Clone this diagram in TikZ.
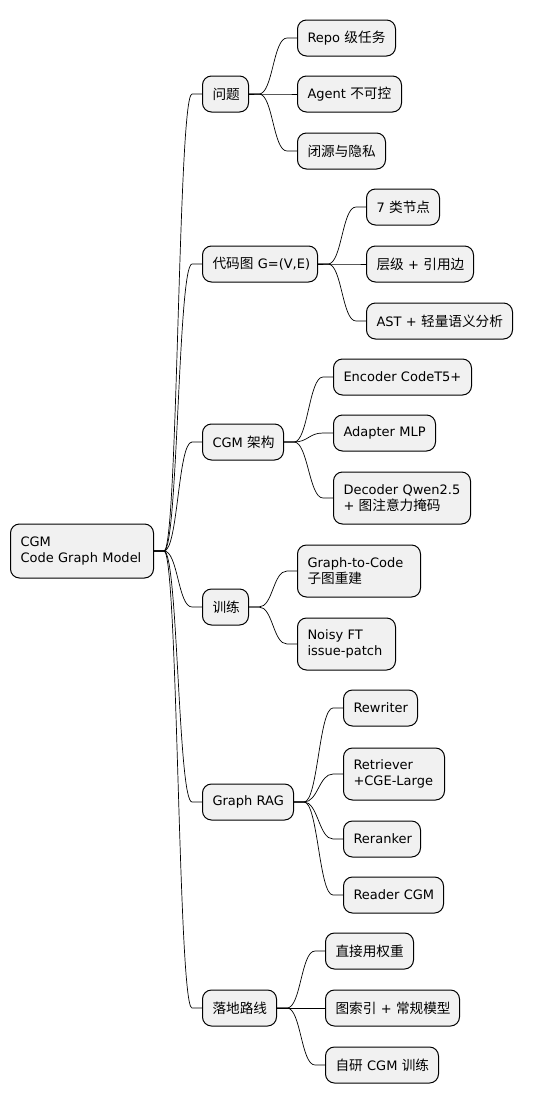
\documentclass[tikz,border=0pt]{standalone}
\usepackage{fontspec}
\usepackage{xcolor}
\usepackage{tikz}
\setmainfont{DejaVu Sans}
\newfontfamily\cjk[Scale=1.05]{Noto Sans CJK SC}
\definecolor{boxfill}{HTML}{F1F1F1}
\tikzset{
  topic/.style={draw=black,line width=1pt,fill=boxfill,rounded corners=9pt,
    anchor=west,align=left,minimum height=36pt,inner xsep=10pt,inner ysep=4pt,
    font=\fontsize{13}{16.5}\selectfont},
  branch/.style={line width=0.7pt,
    to path={-- ++(10,0) .. controls +(14,0) and +(-14,0) .. ([xshift=-10pt]\tikztotarget) -- (\tikztotarget)}}
}

\begin{document}
\begin{tikzpicture}[x=1pt,y=-1pt]
  \useasboundingbox (0,0) rectangle (535,1103);
  \node[topic,text width=123pt,minimum height=54pt] at (10,551) (root) {CGM\\Code~Graph~Model};

  \node[topic,text width=26pt]  at (202,94)  (q) {\cjk 问题};
  \node[topic,text width=78pt]  at (297,38)  (q1) {Repo~{\cjk 级任务}};
  \node[topic,text width=84pt]  at (297,94)  (q2) {Agent~{\cjk 不可控}};
  \node[topic,text width=68pt]  at (297,151) (q3) {\cjk 闭源与隐私};

  \node[topic,text width=95pt]  at (202,264) (g) {{\cjk 代码图}~G=(V,E)};
  \node[topic,text width=53pt]  at (366,207) (g1) {7~{\cjk 类节点}};
  \node[topic,text width=87pt]  at (366,264) (g2) {{\cjk 层级}~+~{\cjk 引用边}};
  \node[topic,text width=126pt] at (366,321) (g3) {AST~+~{\cjk 轻量语义分析}};

  \node[topic,text width=61pt]  at (202,442) (a) {CGM~{\cjk 架构}};
  \node[topic,text width=118pt] at (333,377) (a1) {Encoder~CodeT5+};
  \node[topic,text width=82pt]  at (333,433) (a2) {Adapter~MLP};
  \node[topic,text width=117pt,minimum height=52pt] at (333,498) (a3) {Decoder~Qwen2.5\\+~{\cjk 图注意力掩码}};

  \node[topic,text width=26pt]  at (202,607) (t) {\cjk 训练};
  \node[topic,text width=103pt,minimum height=52pt] at (297,571) (t1) {Graph-to-Code\\{\cjk 子图重建}};
  \node[topic,text width=78pt,minimum height=52pt]  at (297,644) (t2) {Noisy~FT\\issue-patch};

  \node[topic,text width=71pt]  at (202,802) (r) {Graph~RAG};
  \node[topic,text width=54pt]  at (343,708) (r1) {Rewriter};
  \node[topic,text width=81pt,minimum height=52pt] at (343,774) (r2) {Retriever\\+CGE-Large};
  \node[topic,text width=57pt]  at (343,839) (r3) {Reranker};
  \node[topic,text width=80pt]  at (343,895) (r4) {Reader~CGM};

  \node[topic,text width=54pt]  at (202,1008) (l) {\cjk 落地路线};
  \node[topic,text width=68pt]  at (325,951)  (l1) {\cjk 直接用权重};
  \node[topic,text width=114pt] at (325,1008) (l2) {{\cjk 图索引}~+~{\cjk 常规模型}};
  \node[topic,text width=93pt]  at (325,1065) (l3) {{\cjk 自研}~CGM~{\cjk 训练}};

  \foreach \c in {q,g,a,t,r,l}
    \draw[branch] (root.east) to (\c.west);
  \foreach \c in {q1,q2,q3}
    \draw[branch] (q.east) to (\c.west);
  \foreach \c in {g1,g2,g3}
    \draw[branch] (g.east) to (\c.west);
  \foreach \c in {a1,a2,a3}
    \draw[branch] (a.east) to (\c.west);
  \foreach \c in {t1,t2}
    \draw[branch] (t.east) to (\c.west);
  \foreach \c in {r1,r2,r3,r4}
    \draw[branch] (r.east) to (\c.west);
  \foreach \c in {l1,l2,l3}
    \draw[branch] (l.east) to (\c.west);
\end{tikzpicture}
\end{document}
